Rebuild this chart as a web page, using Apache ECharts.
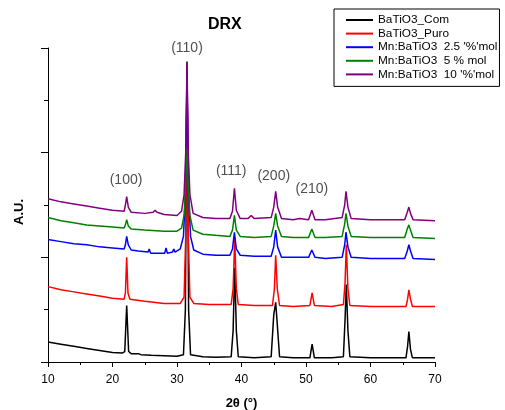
<!DOCTYPE html>
<html>
<head>
<meta charset="utf-8">
<script src="https://cdn.jsdelivr.net/npm/echarts@6/dist/echarts.min.js"></script>
<style>
  html, body { margin: 0; padding: 0; background: #fff; }
  #chart { width: 505px; height: 410px; }
</style>
</head>
<body>
<div id="chart"></div>
<script>
// 2θ vs intensity (u.a., curvas desplazadas verticalmente)
const seriesNames = ['BaTiO3_Com', 'BaTiO3_Puro', "Mn:BaTiO3  2.5 '%'mol", 'Mn:BaTiO3  5 % mol', "Mn:BaTiO3  10 '%'mol"]
const colors = ['#000000', '#ff0000', '#0000ff', '#008000', '#800080']

const com = [[10,0.19],[12,0.17],[14,0.15],[16,0.13],[18,0.11],[20,0.09],[21.5,0.085],[21.9,0.1],[22.2,0.54],[22.5,0.1],[22.9,0.08],[24,0.08],[24.2,0.09],[24.4,0.07],[26,0.065],[28,0.06],[30,0.055],[31,0.07],[31.3,0.5],[31.55,2.87],[31.8,0.5],[32.1,0.07],[34,0.05],[36,0.045],[38.4,0.05],[38.7,0.3],[38.95,0.9],[39.2,0.3],[39.5,0.05],[42,0.04],[44.6,0.05],[45.0,0.45],[45.3,0.57],[45.5,0.4],[45.9,0.05],[48,0.04],[50.6,0.04],[50.95,0.17],[51.3,0.04],[54,0.04],[55.8,0.05],[56.05,0.4],[56.25,0.74],[56.5,0.3],[56.8,0.05],[60,0.04],[65.5,0.04],[65.75,0.15],[65.95,0.29],[66.2,0.12],[66.5,0.04],[70,0.04]]

const puro = [[10,0.72],[12,0.69],[14,0.67],[16,0.65],[18,0.63],[20,0.61],[21.8,0.6],[22.0,0.66],[22.2,1.0],[22.4,0.66],[22.7,0.6],[25,0.58],[28,0.56],[30.5,0.56],[31.1,0.62],[31.35,1.2],[31.55,2.83],[31.75,1.2],[32.0,0.62],[32.6,0.56],[35,0.55],[38.4,0.55],[38.7,0.7],[38.95,1.17],[39.2,0.7],[39.5,0.55],[42,0.54],[44.8,0.54],[45.1,0.7],[45.3,1.02],[45.55,0.7],[45.9,0.54],[48,0.53],[50.6,0.54],[50.95,0.66],[51.3,0.54],[54,0.53],[55.8,0.55],[56.05,0.75],[56.25,1.12],[56.5,0.7],[56.8,0.54],[60,0.53],[65.5,0.53],[65.75,0.6],[65.95,0.69],[66.2,0.6],[66.5,0.53],[70,0.53]]

const mn25 = [[10,1.17],[12,1.15],[14,1.13],[16,1.12],[18,1.1],[20,1.09],[21.8,1.08],[22.0,1.12],[22.2,1.2],[22.45,1.12],[22.9,1.07],[24,1.06],[25.5,1.05],[25.7,1.08],[25.9,1.04],[27,1.04],[28.1,1.04],[28.3,1.09],[28.5,1.04],[29.3,1.05],[29.5,1.08],[29.7,1.05],[30.5,1.08],[31.0,1.2],[31.3,1.6],[31.55,2.79],[31.8,1.6],[32.1,1.2],[32.6,1.07],[34,1.03],[36,1.02],[38.2,1.02],[38.6,1.08],[38.9,1.24],[39.2,1.08],[39.8,1.02],[42,1.01],[44.6,1.01],[45.0,1.1],[45.3,1.26],[45.6,1.1],[46.2,1.0],[48,1.0],[50.4,1.0],[50.9,1.07],[51.4,1.0],[53,0.99],[55.6,1.0],[56.0,1.12],[56.2,1.24],[56.5,1.1],[57,1.0],[60,0.99],[65.3,0.99],[65.7,1.06],[65.95,1.12],[66.2,1.06],[66.6,0.99],[70,0.98]]

const mn5 = [[10,1.38],[12,1.35],[14,1.33],[16,1.31],[18,1.3],[20,1.29],[21.8,1.28],[22.0,1.31],[22.2,1.36],[22.45,1.3],[22.9,1.27],[25,1.26],[28,1.25],[30,1.25],[30.7,1.28],[31.1,1.4],[31.35,1.7],[31.55,2.05],[31.75,1.7],[32.0,1.4],[32.5,1.26],[34,1.22],[36,1.21],[38.2,1.2],[38.6,1.26],[38.9,1.4],[39.2,1.26],[39.8,1.2],[42,1.19],[44.6,1.2],[45.0,1.3],[45.3,1.42],[45.6,1.3],[46.2,1.2],[48,1.19],[50.4,1.19],[50.9,1.27],[51.4,1.19],[53,1.19],[55.6,1.2],[56.0,1.32],[56.2,1.42],[56.5,1.3],[57,1.2],[60,1.19],[65.3,1.19],[65.7,1.27],[65.95,1.31],[66.2,1.26],[66.6,1.19],[70,1.18]]

const mn10 = [[10,1.56],[12,1.53],[14,1.51],[16,1.49],[18,1.47],[20,1.45],[21.8,1.44],[22.0,1.5],[22.2,1.58],[22.45,1.48],[22.9,1.43],[25,1.42],[26.3,1.43],[26.6,1.45],[26.9,1.43],[28,1.41],[30,1.4],[30.7,1.44],[31.1,1.6],[31.35,2.0],[31.55,2.85],[31.75,2.0],[32.0,1.6],[32.5,1.42],[34,1.38],[36,1.37],[38.2,1.37],[38.6,1.44],[38.9,1.66],[39.2,1.45],[39.8,1.37],[41.0,1.37],[41.5,1.4],[42,1.37],[44.6,1.38],[45.0,1.48],[45.3,1.63],[45.6,1.48],[46.2,1.37],[48,1.36],[49,1.37],[50.4,1.36],[50.9,1.45],[51.4,1.36],[53,1.36],[55.6,1.38],[56.0,1.5],[56.2,1.63],[56.5,1.48],[57,1.37],[60,1.36],[65.3,1.36],[65.7,1.43],[65.95,1.48],[66.2,1.42],[66.6,1.36],[70,1.35]]

// planos (hkl) y donde va cada etiqueta
const hklLabels = ['(100)', '(110)', '(111)', '(200)', '(210)']
const hklPos = [[22.1, 1.74], [31.55, 3.0], [38.4, 1.82], [45.0, 1.78], [50.9, 1.65]]

const allData = [com, puro, mn25, mn5, mn10]

const chart = echarts.init(document.getElementById('chart'))
const FONT = 'Liberation Sans, Arial, sans-serif'

chart.setOption({
  animation: false,
  title: {
    text: 'DRX', left: 208, top: 17, padding: 0,
    textStyle: { fontFamily: FONT, fontSize: 16, fontWeight: 'bold', color: '#000' },
  },
  legend: {
    data: seriesNames, orient: 'vertical', left: 334, top: 9,
    icon: 'rect', itemWidth: 27, itemHeight: 2, itemGap: 1.6,
    padding: [5, 2, 6, 12],
    backgroundColor: '#fff', borderColor: '#000', borderWidth: 1, borderRadius: 0,
    textStyle: { fontFamily: FONT, fontSize: 11.8, color: '#000', lineHeight: 12 },
  },
  grid: { left: 48, right: 70, top: 48, bottom: 48, outerBoundsMode: 'none', containLabel: false },
  xAxis: {
    type: 'value', min: 10, max: 70, interval: 10,
    name: '2θ (°)', nameLocation: 'middle', nameGap: 35,
    nameTextStyle: { fontFamily: FONT, fontSize: 13, fontWeight: 'bold', color: '#000' },
    axisLine: { lineStyle: { color: '#000', width: 1 } },
    axisTick: { length: 5, lineStyle: { color: '#000' } },
    minorTick: { show: true, splitNumber: 2, length: 3, lineStyle: { color: '#000' } },
    axisLabel: { fontFamily: FONT, fontSize: 12, color: '#000', margin: 12 },
    splitLine: { show: false },
  },
  yAxis: {
    type: 'value', min: 0, max: 3, interval: 1,
    name: 'A.U.', nameLocation: 'middle', nameGap: 22,
    nameTextStyle: { fontFamily: FONT, fontSize: 13, fontWeight: 'bold', color: '#000', padding: [0, 14, 0, 0] },
    axisLine: { show: true, lineStyle: { color: '#000', width: 1 } },
    axisTick: { show: true, length: 7, lineStyle: { color: '#000' } },
    minorTick: { show: true, splitNumber: 2, length: 4, lineStyle: { color: '#000' } },
    axisLabel: { show: false },
    splitLine: { show: false },
  },
  series: [
    ...allData.map((d, i) => ({
      name: seriesNames[i], type: 'line', data: d, symbol: 'none',
      color: colors[i], lineStyle: { width: 1.5, color: colors[i] },
    })),
    {
      name: 'hkl', type: 'scatter', symbolSize: 0, silent: true,
      data: hklPos.map((p, i) => ({ value: p, name: hklLabels[i] })),
      label: {
        show: true, position: 'inside', formatter: (p) => p.name,
        fontFamily: FONT, fontSize: 14, color: '#222',
      },
    },
  ],
})
</script>
</body>
</html>
